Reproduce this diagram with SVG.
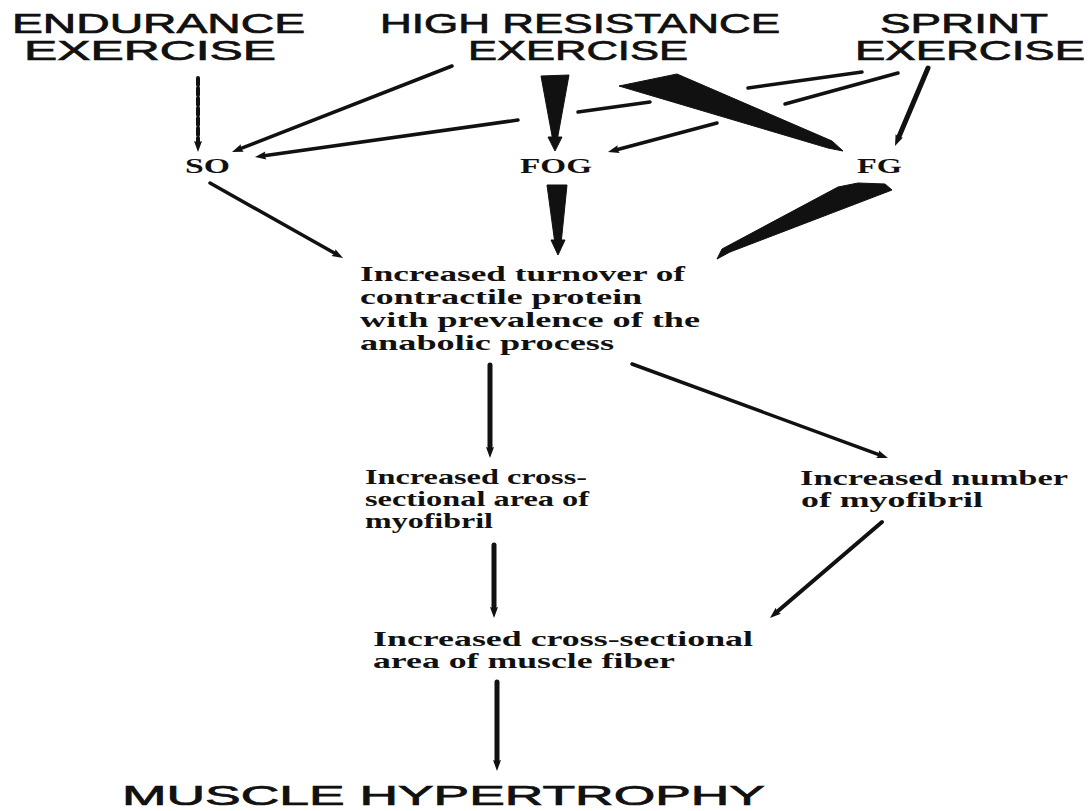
<svg xmlns="http://www.w3.org/2000/svg" width="1088" height="811" viewBox="0 0 1088 811">
<defs>
<style>
.hdr{font-family:"Liberation Sans",Arial,sans-serif;font-size:28px;fill:#111;stroke:#111;stroke-width:0.7;}
.big{font-family:"Liberation Sans",Arial,sans-serif;font-size:28px;fill:#111;stroke:#111;stroke-width:0.7;}
.lbl{font-family:"Liberation Serif","Times New Roman",serif;font-weight:bold;font-size:22px;fill:#111;}
.ln{stroke:#111;fill:none;stroke-linecap:round;}
.w3{stroke-width:3.5;}
.w4{stroke-width:4;}
.w5{stroke-width:5;}
.wedge{fill:#111;stroke:#111;stroke-width:1;stroke-linejoin:round;}
</style>
<marker id="ah" markerUnits="userSpaceOnUse" markerWidth="14" markerHeight="10" refX="2" refY="4" orient="auto" overflow="visible">
<path d="M0,0 L11,4 L0,8 L1.5,4 z" fill="#111"/>
</marker>
</defs>
<rect width="1088" height="811" fill="#fff"/>
<g id="connectors">
<line class="ln w4" x1="198" y1="78" x2="198" y2="143" stroke-dasharray="7 3" stroke-linecap="butt" marker-end="url(#ah)"/>
<line class="ln w3" x1="452" y1="66" x2="240.4" y2="148.7" marker-end="url(#ah)"/>
<line class="ln w3" x1="862" y1="72" x2="748" y2="88"/>
<line class="ln w3" x1="650" y1="102" x2="578" y2="112"/>
<line class="ln w3" x1="518" y1="120" x2="263.9" y2="155.7" marker-end="url(#ah)"/>
<polygon class="wedge" points="541,76 569,75 557,141 553,141"/>
<polygon class="wedge" points="548,137 562,137 555,151"/>
<polygon class="wedge" points="619,86 677,74 832,141 843,151 828,148"/>
<line class="ln w3" x1="898" y1="73" x2="785" y2="104"/>
<line class="ln w3" x1="717" y1="123" x2="616.7" y2="149.7" marker-end="url(#ah)"/>
<line class="ln w5" x1="928" y1="68" x2="898.5" y2="137.7" marker-end="url(#ah)"/>
<line class="ln w3" x1="210" y1="183" x2="335.2" y2="253.6" marker-end="url(#ah)"/>
<polygon class="wedge" points="547,185 567,185 561,244 555,244"/>
<polygon class="wedge" points="551,240 565,240 558,255"/>
<polygon class="wedge" points="838,187 858,183 885,184 892,190 730,252 717,259 722,249"/>
<line class="ln w5" x1="490" y1="365" x2="490" y2="449" marker-end="url(#ah)"/>
<line class="ln w3" x1="632" y1="364" x2="879.5" y2="454.9" marker-end="url(#ah)"/>
<line class="ln w5" x1="494" y1="545" x2="494" y2="609" marker-end="url(#ah)"/>
<line class="ln w4" x1="882" y1="522" x2="776.8" y2="612.1" marker-end="url(#ah)"/>
<line class="ln w5" x1="497" y1="682" x2="497" y2="762" marker-end="url(#ah)"/>
</g>
<g id="node-endurance">
<text class="hdr"><tspan x="12" y="33" textLength="293" lengthAdjust="spacingAndGlyphs">ENDURANCE</tspan><tspan x="24" y="60" textLength="252" lengthAdjust="spacingAndGlyphs">EXERCISE</tspan></text>
</g>
<g id="node-high-resistance">
<text class="hdr"><tspan x="380" y="33" textLength="400" lengthAdjust="spacingAndGlyphs">HIGH RESISTANCE</tspan><tspan x="468" y="60" textLength="220" lengthAdjust="spacingAndGlyphs">EXERCISE</tspan></text>
</g>
<g id="node-sprint">
<text class="hdr"><tspan x="880" y="33" textLength="168" lengthAdjust="spacingAndGlyphs">SPRINT</tspan><tspan x="855" y="60" textLength="230" lengthAdjust="spacingAndGlyphs">EXERCISE</tspan></text>
</g>
<g id="node-so">
<text class="lbl" x="185" y="173" textLength="45" lengthAdjust="spacingAndGlyphs">SO</text>
</g>
<g id="node-fog">
<text class="lbl" x="520" y="173" textLength="72" lengthAdjust="spacingAndGlyphs">FOG</text>
</g>
<g id="node-fg">
<text class="lbl" x="857" y="173" textLength="45" lengthAdjust="spacingAndGlyphs">FG</text>
</g>
<g id="node-turnover">
<text class="lbl"><tspan x="360" y="281" textLength="325" lengthAdjust="spacingAndGlyphs">Increased turnover of</tspan><tspan x="360" y="304" textLength="282" lengthAdjust="spacingAndGlyphs">contractile protein</tspan><tspan x="360" y="327" textLength="340" lengthAdjust="spacingAndGlyphs">with prevalence of the</tspan><tspan x="360" y="350" textLength="254" lengthAdjust="spacingAndGlyphs">anabolic process</tspan></text>
</g>
<g id="node-cross-myofibril">
<text class="lbl"><tspan x="365" y="484" textLength="222" lengthAdjust="spacingAndGlyphs">Increased cross-</tspan><tspan x="365" y="506" textLength="224" lengthAdjust="spacingAndGlyphs">sectional area of</tspan><tspan x="365" y="528" textLength="128" lengthAdjust="spacingAndGlyphs">myofibril</tspan></text>
</g>
<g id="node-number-myofibril">
<text class="lbl"><tspan x="800" y="485" textLength="268" lengthAdjust="spacingAndGlyphs">Increased number</tspan><tspan x="801" y="507" textLength="182" lengthAdjust="spacingAndGlyphs">of myofibril</tspan></text>
</g>
<g id="node-cross-fiber">
<text class="lbl"><tspan x="373" y="646" textLength="380" lengthAdjust="spacingAndGlyphs">Increased cross-sectional</tspan><tspan x="373" y="668" textLength="302" lengthAdjust="spacingAndGlyphs">area of muscle fiber</tspan></text>
</g>
<g id="node-hypertrophy">
<text class="big" x="122" y="805" textLength="643" lengthAdjust="spacingAndGlyphs">MUSCLE HYPERTROPHY</text>
</g>
</svg>
